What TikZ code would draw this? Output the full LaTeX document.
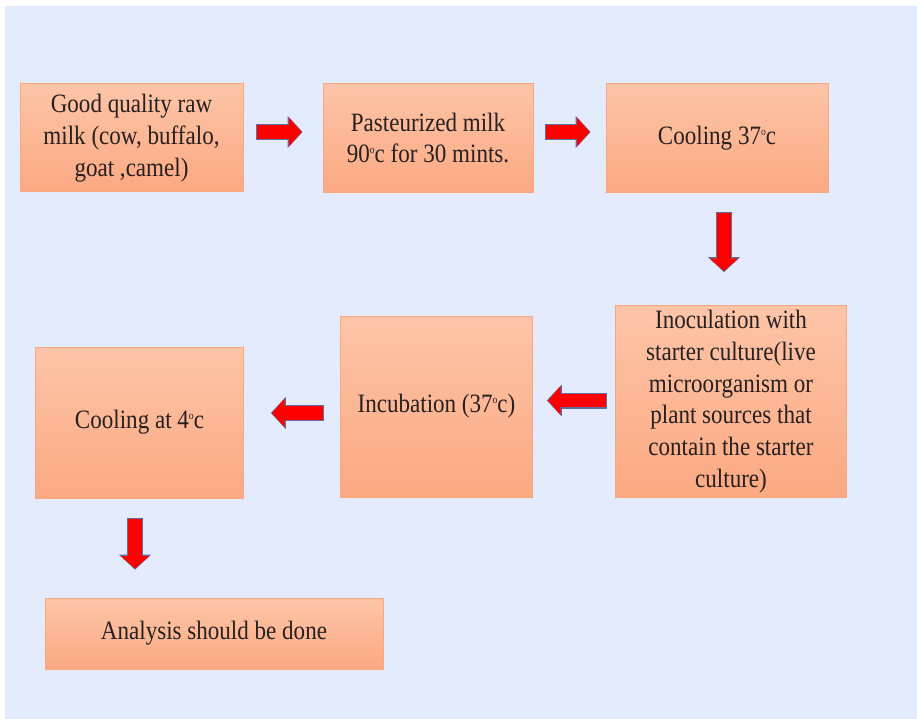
\documentclass[tikz,border=0pt]{standalone}
\usepackage{fontspec}
\setmainfont{Liberation Serif}[FakeStretch=0.87]
\usetikzlibrary{arrows.meta,calc}
\definecolor{bgblue}{HTML}{E3EBFC}
\definecolor{boxtop}{HTML}{FDC5A8}
\definecolor{boxbot}{HTML}{FBA982}
\definecolor{boxline}{HTML}{F9A77C}
\definecolor{txt}{HTML}{262020}
\definecolor{arrowred}{HTML}{FF0000}
\definecolor{arrowedge}{HTML}{5D6F9C}
\tikzset{
  stepbox/.style={rectangle, draw=boxline, line width=1pt, top color=boxtop, bottom color=boxbot,
    inner sep=0pt, align=center, text=txt, font=\fontsize{26.5}{31.7}\selectfont},
  fatunder/.style={draw=arrowedge, line width=16pt, -{Triangle[length=15pt,width=31pt]}, shorten >=-1.2pt, shorten <=-1pt},
  fatarrow/.style={draw=arrowred, line width=13.5pt, -{Triangle[length=12.5pt,width=28pt]}}
}
\newcommand{\degmark}{\raisebox{0.75ex}{\fontsize{11}{11}\selectfont o}}
\begin{document}
\begin{tikzpicture}[x=1pt,y=-1pt]
\useasboundingbox (0,0) rectangle (917,719);
\fill[white] (0,0) rectangle (917,719);
\fill[bgblue] (5,6) rectangle (917,719);

\node[stepbox, minimum width=223pt, minimum height=108pt] (b1) at (131.5,138)
  {Good quality raw\\milk (cow, buffalo,\\goat ,camel)};
\node[stepbox, minimum width=210pt, minimum height=109pt] (b2) at (428,138)
  {Pasteurized milk\\90\degmark c for 30 mints.};
\node[stepbox, minimum width=222pt, minimum height=109pt] (b3) at (717,138)
  {Cooling 37\degmark c};
\node[stepbox, minimum width=231pt, minimum height=192pt] (b4) at (731,401.5)
  {Inoculation with\\starter culture(live\\microorganism or\\plant sources that\\contain the starter\\culture)};
\node[stepbox, minimum width=192pt, minimum height=181pt] (b5) at (436.5,406.5)
  {Incubation (37\degmark c)};
\node[stepbox, minimum width=208pt, minimum height=151pt] (b6) at (139.5,422.5)
  {Cooling at 4\degmark c};
\node[stepbox, minimum width=338pt, minimum height=71pt] (b7) at (214,633.5)
  {Analysis should be done};

% connectors (block arrows)
\coordinate (a1s) at ([xshift=13pt,yshift=6pt]b1.east);
\coordinate (a1e) at ([xshift=-21pt,yshift=6pt]b2.west);
\coordinate (a2s) at ([xshift=12pt,yshift=6pt]b2.east);
\coordinate (a2e) at ([xshift=-16pt,yshift=6pt]b3.west);
\coordinate (a3s) at ([xshift=7pt,yshift=-20pt]b3.south);
\coordinate (a3e) at ([xshift=7pt,yshift=-78pt]b3.south);
\coordinate (a4s) at ([xshift=-9pt,yshift=1pt]b4.west);
\coordinate (a4e) at ([xshift=-67pt,yshift=1pt]b4.west);
\coordinate (a5s) at ([xshift=-17pt,yshift=-6.5pt]b5.west);
\coordinate (a5e) at ([xshift=-68pt,yshift=-6.5pt]b5.west);
\coordinate (a6s) at ([xshift=-4.5pt,yshift=-20pt]b6.south);
\coordinate (a6e) at ([xshift=-4.5pt,yshift=-70pt]b6.south);
\foreach \i in {1,...,6}{
  \draw[fatunder] (a\i s) -- (a\i e);
  \draw[fatarrow] (a\i s) -- (a\i e);
}
\end{tikzpicture}
\end{document}
